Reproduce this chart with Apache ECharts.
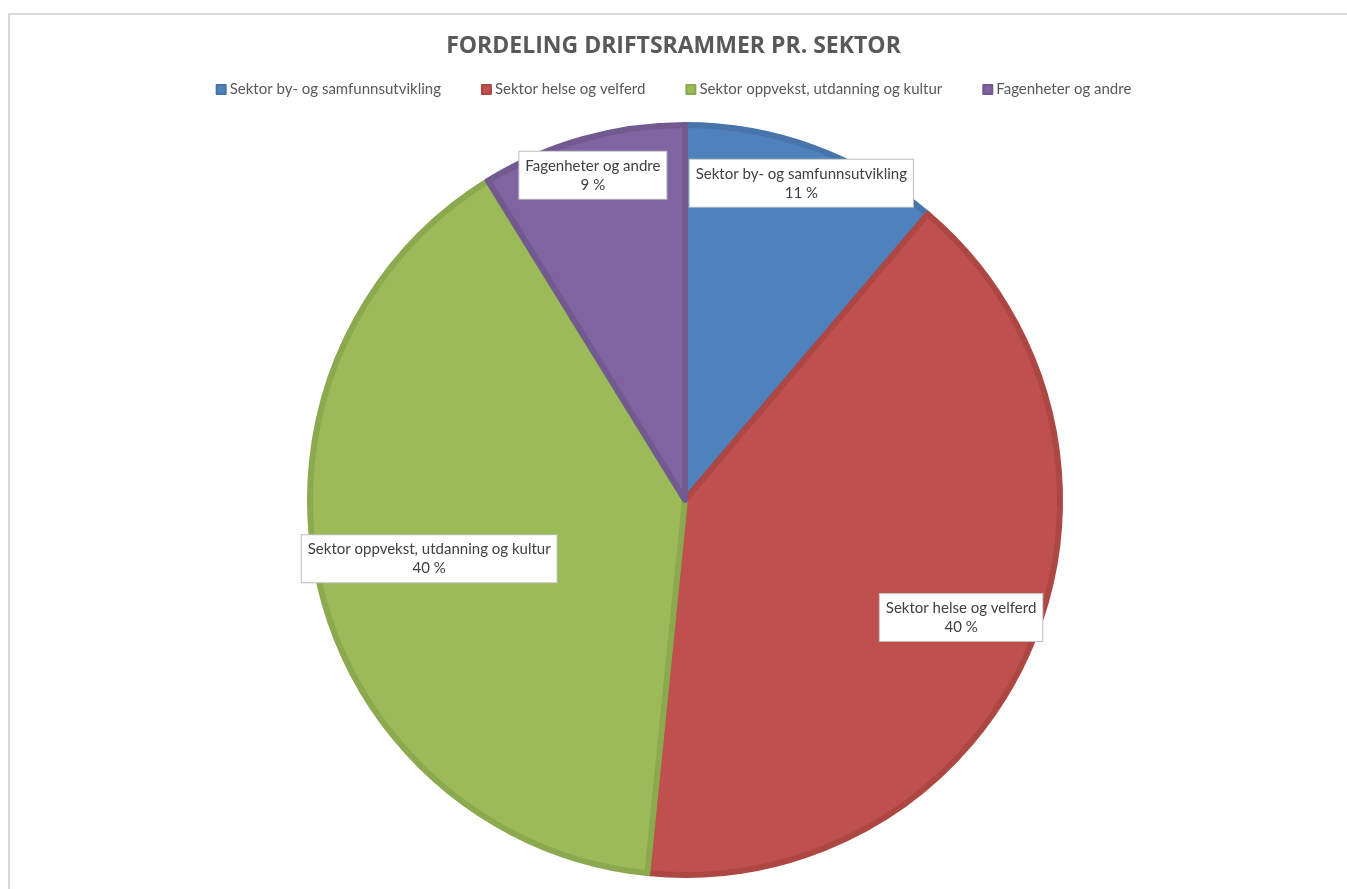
<!DOCTYPE html>
<html>
<head>
<meta charset="utf-8">
<script src="https://cdn.jsdelivr.net/npm/echarts@6/dist/echarts.min.js"></script>
<style>
  html, body { margin: 0; padding: 0; background: #fff; }
  .frame {
    position: absolute; left: 8px; top: 13px; width: 1400px; height: 900px;
    border-top: 2px solid #d9d9d9; border-left: 2px solid #d9d9d9;
  }
  #chart { position: absolute; left: 0; top: 0; width: 1347px; height: 889px; }
</style>
</head>
<body>
<div class="frame"></div>
<div id="chart"></div>
<script>
const categories = [
  'Sektor by- og samfunnsutvikling',
  'Sektor helse og velferd',
  'Sektor oppvekst, utdanning og kultur',
  'Fagenheter og andre'
]
const values = [11.2, 40.4, 39.6, 8.8]

const COLORS = ['#4f81bd', '#c0504d', '#9bbb59', '#8064a2']
const EDGE = ['#4674ab', '#ad4744', '#8ba94f', '#725a91']
// how far out along the slice each callout sits (fraction of radius)
const LABEL_POS = [0.9, 0.8, 0.7, 0.9]

const CX = 685
const CY = 500
const R = 375
const FONT = 'Lato, "Open Sans", sans-serif'

const chart = echarts.init(document.getElementById('chart'))
const total = values.reduce((a, b) => a + b, 0)

const option = {
  backgroundColor: 'transparent',
  title: {
    text: 'FORDELING DRIFTSRAMMER PR. SEKTOR',
    left: 'center',
    top: 30,
    textStyle: { fontFamily: '"Open Sans", sans-serif', fontSize: 23, fontWeight: 'bold', color: '#595959' }
  },
  legend: {
    top: 77,
    left: 'center',
    icon: 'rect',
    itemWidth: 9,
    itemHeight: 9,
    itemGap: 40,
    data: categories,
    textStyle: { fontFamily: FONT, fontSize: 15, color: '#595959', padding: [0, 0, 0, -1] }
  },
  series: [{
    type: 'pie',
    center: [CX, CY],
    radius: [0, R],
    startAngle: 90,
    clockwise: true,
    animation: false,
    data: categories.map((name, i) => ({
      name,
      value: values[i],
      itemStyle: { color: COLORS[i], borderColor: EDGE[i], borderWidth: 6 }
    })),
    label: {
      position: 'inside',
      formatter: p => p.name + '\n' + Math.round(p.percent) + ' %',
      fontFamily: FONT,
      fontSize: 15,
      lineHeight: 19,
      color: '#404040',
      backgroundColor: '#fff',
      borderColor: '#bfbfbf',
      borderWidth: 1,
      padding: [5, 6, 4, 6],
      align: 'center'
    },
    labelLayout: p => {
      let before = 0
      for (let k = 0; k < p.dataIndex; k++) before += values[k]
      const mid = (before + values[p.dataIndex] / 2) / total * Math.PI * 2
      const f = LABEL_POS[p.dataIndex]
      return {
        x: CX + R * f * Math.sin(mid),
        y: CY - R * f * Math.cos(mid),
        align: 'center',
        verticalAlign: 'middle'
      }
    },
    labelLine: { show: false },
    emphasis: { disabled: true }
  }]
}

chart.setOption(option)
window.addEventListener('resize', () => chart.resize())
</script>
</body>
</html>
